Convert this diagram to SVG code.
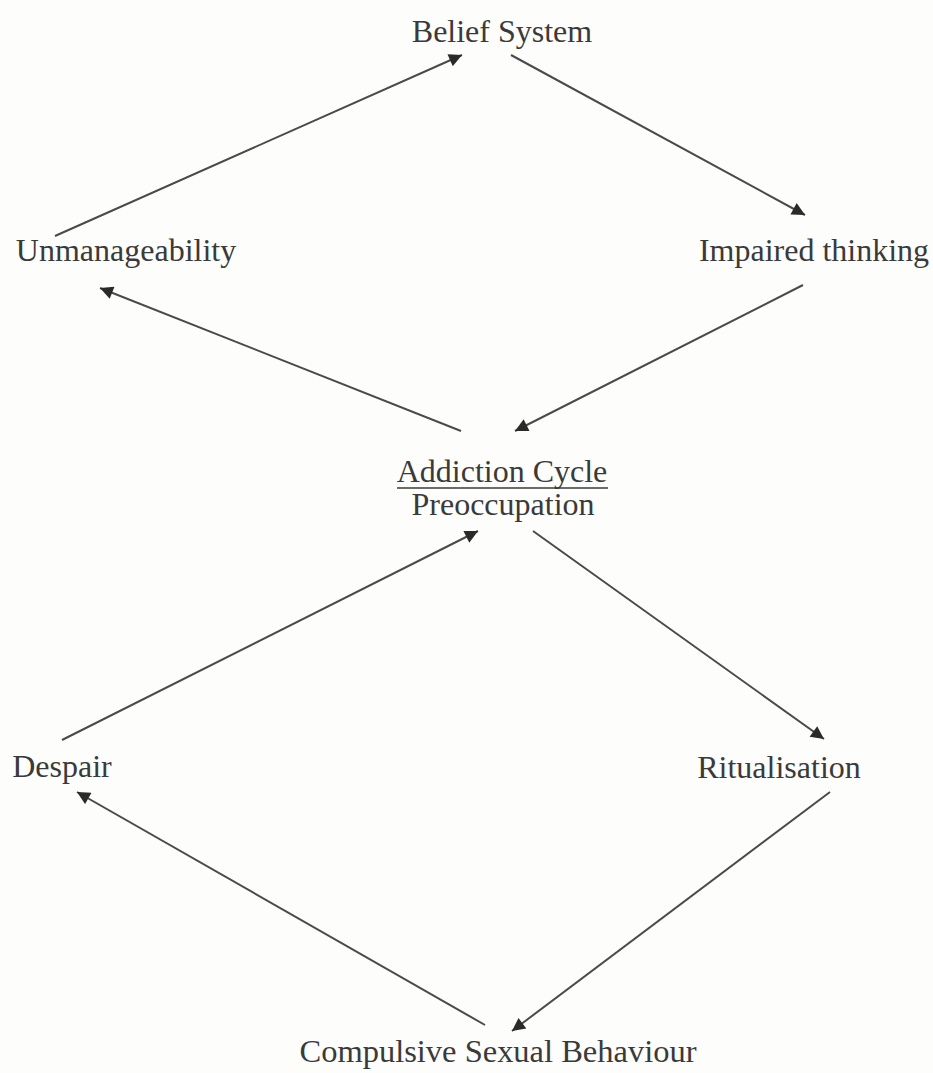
<svg xmlns="http://www.w3.org/2000/svg" width="933" height="1073" viewBox="0 0 933 1073">
<style>
.t{font-family:"Liberation Serif","Times New Roman",serif;font-size:32px;fill:#3a3a3a;text-anchor:middle}
.c line{stroke:#4a4a4a;stroke-width:2;fill:none}
</style>
<defs>
<marker id="ah" viewBox="0 0 10 10" refX="10" refY="5" markerWidth="7.5" markerHeight="6.5" markerUnits="strokeWidth" orient="auto">
<path d="M0,0 L10,5 L0,10 Z" fill="#2a2a2a"/>
</marker>
</defs>
<rect width="933" height="1073" fill="#fdfdfb"/>
<g class="c">
<line x1="55" y1="236" x2="462" y2="55" marker-end="url(#ah)"/>
<line x1="511" y1="55" x2="805" y2="215" marker-end="url(#ah)"/>
<line x1="803" y1="285" x2="515" y2="431" marker-end="url(#ah)"/>
<line x1="461" y1="431" x2="100" y2="288" marker-end="url(#ah)"/>
<line x1="62" y1="740" x2="478" y2="531" marker-end="url(#ah)"/>
<line x1="533" y1="531" x2="824" y2="739" marker-end="url(#ah)"/>
<line x1="830" y1="792" x2="512" y2="1031" marker-end="url(#ah)"/>
<line x1="485" y1="1025" x2="77" y2="792" marker-end="url(#ah)"/>
</g>
<g id="belief"><text class="t" x="502" y="42">Belief System</text></g>
<g id="unmanageability"><text class="t" x="126" y="261">Unmanageability</text></g>
<g id="impaired"><text class="t" x="814" y="261">Impaired thinking</text></g>
<g id="addiction"><text class="t" x="502" y="482">Addiction Cycle</text><line x1="397" y1="488" x2="608" y2="488" stroke="#3a3a3a" stroke-width="1.5"/><text class="t" x="503" y="515">Preoccupation</text></g>
<g id="despair"><text class="t" x="62" y="777">Despair</text></g>
<g id="ritualisation"><text class="t" x="779" y="778">Ritualisation</text></g>
<g id="compulsive"><text class="t" x="498" y="1062" textLength="397" lengthAdjust="spacingAndGlyphs">Compulsive Sexual Behaviour</text></g>
</svg>
